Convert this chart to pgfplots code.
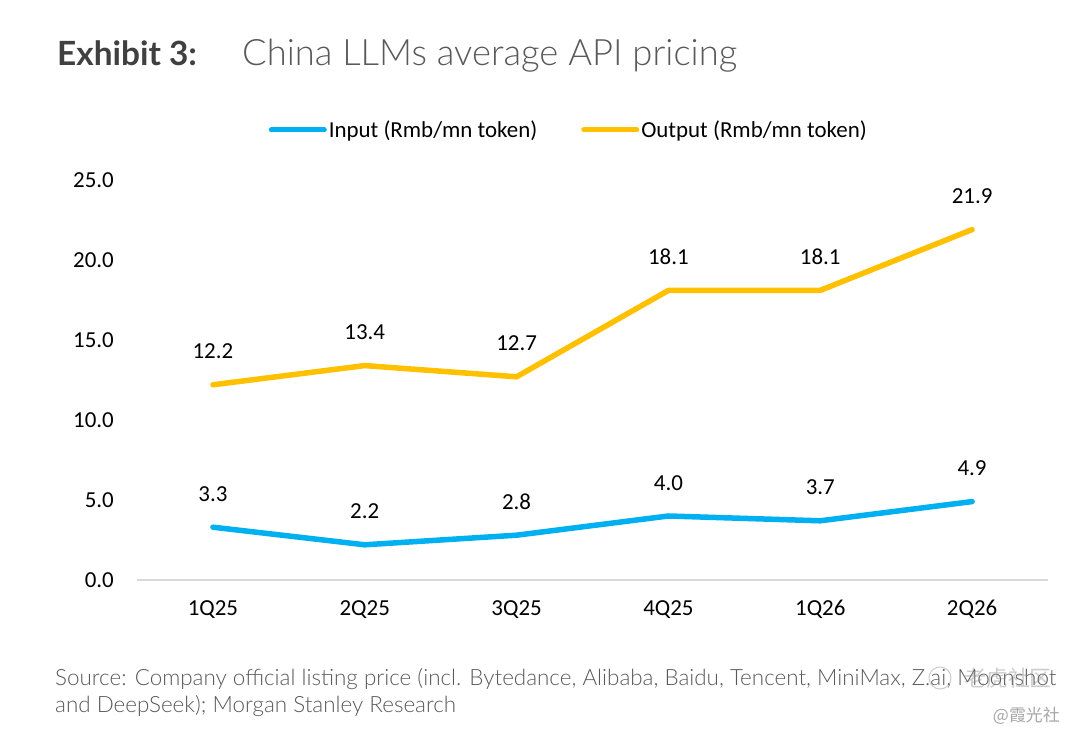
\documentclass[border=0pt]{standalone}
\usepackage{fontspec}
\usepackage{pgfplots}
\pgfplotsset{compat=1.18}
\setmainfont{Carlito}
\newfontfamily\lato{Lato}
\newfontfamily\latolight{Lato}[UprightFont={* Light}]
\newfontfamily\cjk{Noto Sans CJK SC}
\definecolor{inblue}{RGB}{0,176,240}
\definecolor{outgold}{RGB}{255,192,0}
\definecolor{titlegray}{RGB}{64,64,64}
\definecolor{subgray}{RGB}{89,89,89}
\definecolor{axgray}{RGB}{217,217,217}
\begin{document}
\begin{tikzpicture}[x=1bp,y=1bp]
\path[use as bounding box] (0,0) rectangle (1080,740);
\node[anchor=base west, inner sep=0, text=titlegray] at (57,674) {\fontsize{33.5}{40}\selectfont\lato\bfseries Exhibit 3:};
\node[anchor=base west, inner sep=0, text=subgray] at (242,674) {\fontsize{36.5}{42}\selectfont\latolight China LLMs average API pricing};
\begin{axis}[
  at={(137bp,160bp)}, anchor=south west,
  scale only axis, width=911bp, height=400bp,
  xmin=-0.5, xmax=5.5, ymin=0, ymax=25,
  xtick={0,1,2,3,4,5},
  xticklabels={1Q25,2Q25,3Q25,4Q25,1Q26,2Q26},
  ytick={0,5,10,15,20,25},
  axis lines*=left,
  axis line style={-},
  x axis line style={draw=axgray, line width=1.2bp},
  y axis line style={draw=none},
  major tick length=0pt,
  clip=false,
  /pgf/number format/assume math mode=true,
  yticklabel style={/pgf/number format/fixed, /pgf/number format/fixed zerofill, /pgf/number format/precision=1, anchor=east, inner sep=0pt, xshift=-23bp, font=\fontsize{23}{27}\selectfont},
  xticklabel style={anchor=north, inner sep=0pt, yshift=-20bp, font=\fontsize{23}{27}\selectfont},
  nodes near coords={\pgfmathprintnumber[fixed,fixed zerofill,precision=1,assume math mode=true]{\pgfplotspointmeta}},
  every node near coord/.append style={anchor=south, inner sep=0pt, yshift=23bp, text=black, font=\fontsize{23}{27}\selectfont},
  legend columns=2,
  legend style={draw=none, fill=none, at={(0.474,1.125)}, anchor=center,
    font=\fontsize{23}{27}\selectfont,
    /tikz/every even column/.append style={column sep=42bp},
    nodes={inner sep=2bp}},
  legend image code/.code={\draw[line width=5bp] (0bp,0bp) -- (53bp,0bp);},
]
\addplot[color=inblue, line width=5.5bp, line cap=round, line join=round] coordinates {(0,3.3) (1,2.2) (2,2.8) (3,4.0) (4,3.7) (5,4.9)};
\addlegendentry{Input (Rmb/mn token)}
\addplot[color=outgold, line width=5.5bp, line cap=round, line join=round] coordinates {(0,12.2) (1,13.4) (2,12.7) (3,18.1) (4,18.1) (5,21.9)};
\addlegendentry{Output (Rmb/mn token)}
\end{axis}
\node[anchor=base west, inner sep=0, text=subgray, align=left] at (55,54) {\fontsize{22.5}{27}\selectfont\latolight Source: Company official listing price (incl. Bytedance, Alibaba, Baidu, Tencent, MiniMax, Z.ai, Moonshot};
\node[anchor=base west, inner sep=0, text=subgray] at (55,27) {\fontsize{22.5}{27}\selectfont\latolight and DeepSeek); Morgan Stanley Research};
\node[anchor=center, inner sep=0, text=gray, opacity=0.4] at (1008,62) {\fontsize{22}{26}\selectfont\cjk 老虎社区};
\draw[gray, opacity=0.4, line width=1bp] (940,62) circle (11bp);
\node[anchor=base east, inner sep=0, text=gray!70] at (1060,18) {\fontsize{17}{20}\selectfont\cjk @霞光社};
\end{tikzpicture}
\end{document}
